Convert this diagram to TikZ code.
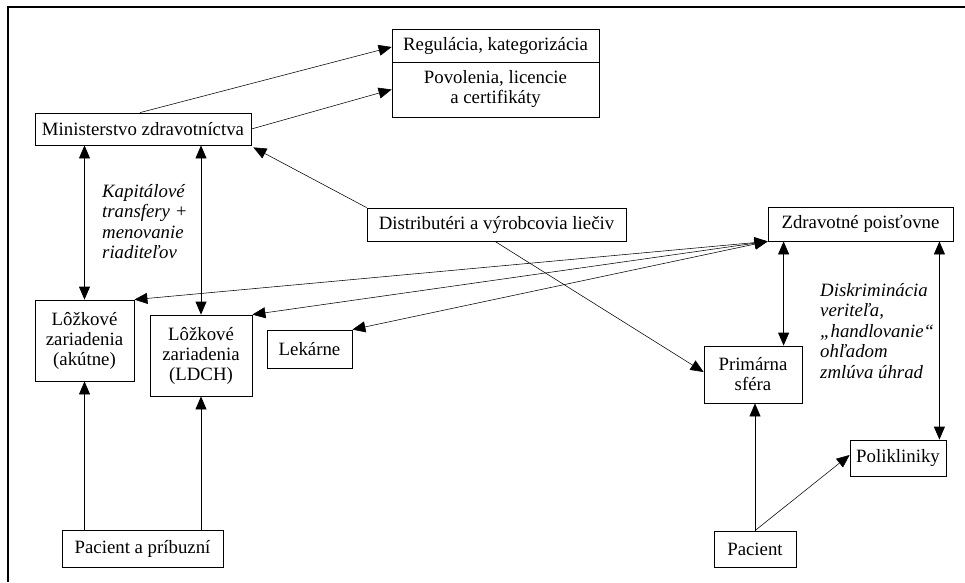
\documentclass[tikz,border=0pt]{standalone}
\usepackage{fontspec}
\setmainfont{Liberation Serif}
\usetikzlibrary{arrows.meta,calc}
\tikzset{
  box/.style={draw, line width=0.8pt, align=center, inner sep=0pt, font=\fontsize{18.8}{20}\selectfont},
  note/.style={align=left, inner sep=0pt, anchor=north west, font=\fontsize{18.8}{20.5}\selectfont\itshape},
  arr/.style={-{Triangle[length=13pt,width=11pt]}, line width=0.55pt},
  both/.style={{Triangle[length=13pt,width=11pt]}-{Triangle[length=13pt,width=11pt]}, line width=0.55pt},
  dbl/.style={{Triangle[length=13pt,width=11pt]}-{Triangle[length=13pt,width=11pt]}, line width=0.8pt},
  up/.style={-{Triangle[length=13pt,width=11pt]}, line width=0.8pt}
}
\begin{document}
\begin{tikzpicture}[x=1pt,y=-1pt]
\useasboundingbox (0,0) rectangle (965,582);
\draw[line width=2pt] (965,7) -- (8,7) -- (8,582);
% boxes
\node[box, minimum width=207, minimum height=33] (reg) at (495.5,45.5) {Regulácia, kategorizácia};
\node[box, minimum width=207, minimum height=55] (pov) at (495.5,89.5) {Povolenia, licencie\\a certifikáty};
\node[box, minimum width=216, minimum height=32] (min) at (143,129) {Ministerstvo zdravotníctva};
\node[box, minimum width=259, minimum height=33] (dist) at (496.5,224.5) {Distributéri a výrobcovia liečiv};
\node[box, minimum width=185, minimum height=34] (zp) at (860.5,224) {Zdravotné poisťovne};
\node[box, minimum width=99, minimum height=81] (lza) at (84.5,340.5) {Lôžkové\\zariadenia\\(akútne)};
\node[box, minimum width=102, minimum height=81] (lzl) at (201,355.5) {Lôžkové\\zariadenia\\(LDCH)};
\node[box, minimum width=85, minimum height=38] (lek) at (309.5,349) {Lekárne};
\node[box, minimum width=98, minimum height=57] (prim) at (753,374.5) {Primárna\\sféra};
\node[box, minimum width=96, minimum height=36] (pol) at (898,458) {Polikliniky};
\node[box, minimum width=161, minimum height=37] (pap) at (142.5,548.5) {Pacient a príbuzní};
\node[box, minimum width=82, minimum height=36] (pac) at (755,549) {Pacient};
% labels
\node[note] (kap) at (102,184) {Kapitálové\\transfery +\\menovanie\\riaditeľov};
\node[note] (disk) at (820,283) {Diskriminácia\\veriteľa,\\„handlovanie“\\ohľadom\\zmlúva úhrad};
% connectors
\draw[arr] ($(min.north)+(-3,0)$) -- ($(reg.west)+(0,1.5)$);
\draw[arr] (min.east) -- (pov.west);
\draw[arr] (dist.north west) -- ($(min.south east)+(2,2)$);
\draw[dbl] (lza.north) -- (lza.north |- min.south);
\draw[dbl] (lzl.north) -- (lzl.north |- min.south);
\draw[both] (zp.south west) -- (lza.north east);
\draw[both] (zp.south west) -- (lzl.north east);
\draw[both] (zp.south west) -- (lek.north east);
\draw[arr] ($(dist.south)+(-1.5,0)$) -- ($(prim.west)+(0,-2.5)$);
\draw[dbl] ($(zp.south west)+(16,0)$) -- ($(prim.north west)+(80,0)$);
\draw[dbl] ($(zp.south east)+(-14,0)$) -- ($(pol.north east)+(-7,0)$);
\draw[up] (lza.south |- pap.north) -- (lza.south);
\draw[up] (lzl.south |- pap.north) -- (lzl.south);
\draw[arr] (pac.north) -- (pac.north |- prim.south);
\draw[arr] (pac.north) -- ($(pol.west)+(0,-3)$);
\end{tikzpicture}
\end{document}
